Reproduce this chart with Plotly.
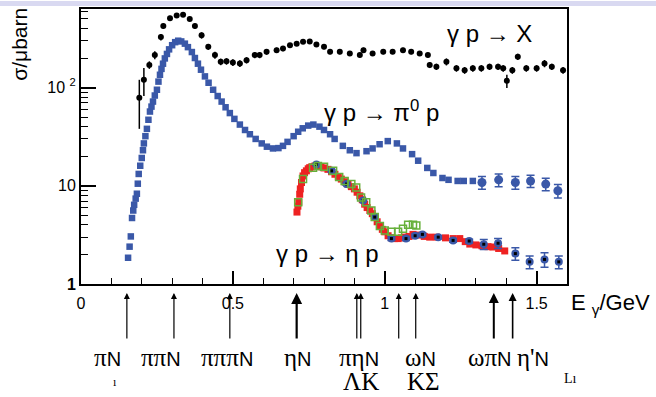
import plotly.graph_objects as go

# ---------------- data ----------------
# total photoabsorption  gamma p -> X  (E_gamma [GeV], sigma [mubarn], error)
tot_E = [0.192, 0.207, 0.225, 0.243, 0.263, 0.271, 0.293, 0.315, 0.336, 0.358,
         0.375, 0.397, 0.419, 0.441, 0.460, 0.479, 0.500, 0.523, 0.545, 0.572,
         0.588, 0.611, 0.644, 0.665, 0.688, 0.710, 0.731, 0.753, 0.775, 0.800,
         0.820, 0.852, 0.885, 0.918, 0.930, 0.960, 0.995, 1.026, 1.060, 1.087,
         1.115, 1.142, 1.148, 1.170, 1.203, 1.236, 1.263, 1.290, 1.318, 1.345,
         1.373, 1.390, 1.402, 1.420, 1.438, 1.466, 1.500, 1.526, 1.550, 1.587]
tot_S = [79, 120, 170, 214, 327, 423, 509, 542, 550, 500,
         423, 340, 260, 214, 183, 185, 180, 176, 190, 214,
         214, 231, 240, 250, 270, 280, 292, 295, 274, 260,
         231, 231, 222, 214, 240, 222, 231, 231, 240, 231,
         222, 214, 170, 163, 183, 157, 150, 157, 157, 163,
         163, 157, 117, 150, 206, 157, 157, 176, 163, 150]
tot_err = [41, 38, 15, 20, 25, 25, 30, 30, 25, 25,
           25, 25, 18, 18, 14, 14, 14, 14, 14, 15,
           15, 15, 15, 15, 15, 15, 15, 15, 15, 15,
           12, 12, 12, 12, 15, 12, 12, 12, 15, 12,
           12, 12, 12, 12, 15, 12, 12, 12, 12, 12,
           12, 12, 18, 12, 15, 12, 12, 15, 12, 12]

# gamma p -> pi0 p
pi0_E = [0.155, 0.160, 0.164, 0.168, 0.172, 0.175, 0.180, 0.184, 0.187, 0.190,
         0.195, 0.200, 0.204, 0.207, 0.212, 0.217, 0.222, 0.227, 0.232, 0.237,
         0.243, 0.250, 0.255, 0.260, 0.265, 0.270, 0.276, 0.283, 0.290, 0.300,
         0.310, 0.320, 0.330, 0.342, 0.352, 0.365, 0.375, 0.385, 0.395, 0.408,
         0.420, 0.435, 0.450, 0.463, 0.476, 0.490, 0.505, 0.523, 0.540, 0.556,
         0.575, 0.595, 0.612, 0.632, 0.650, 0.665, 0.680, 0.700, 0.715, 0.730,
         0.748, 0.765, 0.785, 0.800, 0.820, 0.835, 0.862, 0.885, 0.907, 0.940,
         0.960, 0.983, 1.010, 1.040, 1.060, 1.090, 1.110, 1.140, 1.160, 1.190,
         1.210, 1.240, 1.260, 1.290]
pi0_S = [1.85, 2.4, 3.05, 4.7, 5.6, 6.4, 7.4, 8.3, 10.5, 13.2,
         16, 19.2, 23, 27, 32, 38, 47, 57, 64, 72,
         83, 95, 115, 135, 155, 175, 198, 220, 245, 270,
         290, 300, 295, 280, 258, 230, 200, 175, 152, 130,
         112, 95, 82, 72, 63, 55, 48, 42, 37, 33.5,
         30, 27, 25, 24, 24.2, 25.5, 28, 32, 35.5, 38.5,
         41, 42, 40, 37, 33.5, 30, 25.5, 23, 21.5, 22.5,
         24, 26.5, 28.5, 27, 24, 21, 18, 15.2, 13.5, 12,
         11.5, 11.2, 11.2, 11.2]
pi0_hiE = [1.320, 1.375, 1.430, 1.480, 1.530, 1.570]
pi0_hiS = [10.8, 11.5, 10.8, 11.2, 10.4, 8.9]
pi0_hiErr = [1.6, 1.7, 1.6, 1.6, 1.5, 1.4]

# gamma p -> eta p, red data set
etaR_E = [0.711, 0.714, 0.717, 0.720, 0.722, 0.726, 0.731, 0.736, 0.742, 0.748,
          0.753, 0.760, 0.770, 0.780, 0.790, 0.800, 0.813, 0.825, 0.836, 0.847,
          0.857, 0.868, 0.879, 0.890, 0.900, 0.909, 0.918, 0.926, 0.934, 0.942,
          0.951, 0.959, 0.967, 0.975, 0.984, 0.992, 1.000, 1.011, 1.022, 1.033,
          1.044, 1.055, 1.066, 1.080, 1.093, 1.110, 1.130, 1.148, 1.170, 1.200,
          1.225, 1.247, 1.265, 1.280, 1.300, 1.320, 1.340, 1.356, 1.375, 1.395]
etaR_S = [5.4, 6.2, 6.8, 8.2, 9.3, 10.8, 12.6, 13.6, 14.2, 14.9,
          15.3, 15.6, 15.9, 15.8, 15.6, 15.2, 14.7, 13.9, 13.1, 12.3,
          11.7, 11.0, 10.4, 9.8, 9.3, 8.6, 7.9, 7.2, 6.5, 6.0,
          5.6, 5.2, 4.8, 4.3, 3.9, 3.6, 3.4, 3.1, 2.96, 2.9,
          2.9, 2.95, 3.0, 3.05, 3.2, 3.15, 3.05, 3.0, 3.0, 2.95,
          2.9, 2.9, 2.7, 2.55, 2.5, 2.45, 2.4, 2.38, 2.3, 2.17]

# gamma p -> eta p, green open squares
etaG_E = [0.715, 0.731, 0.764, 0.780, 0.800, 0.830, 0.850, 0.868, 0.890, 0.906,
          0.922, 0.939, 0.956, 0.967, 0.984, 1.000, 1.022, 1.044, 1.060, 1.077,
          1.093, 1.104]
etaG_S = [6.8, 11.7, 15.3, 15.9, 15.6, 14.2, 12.3, 11.2, 10.4, 9.6,
          7.6, 6.8, 5.6, 4.8, 3.9, 3.5, 3.4, 3.4, 3.65, 4.0,
          4.0, 3.95]

# gamma p -> eta p, blue points (black centres)
etaB_E = [0.775, 0.825, 0.874, 0.929, 0.967, 1.022, 1.070, 1.100, 1.124, 1.176,
          1.225, 1.278, 1.326, 1.373, 1.430, 1.477, 1.526, 1.573]
etaB_S = [16.5, 14.2, 10.4, 7.1, 4.8, 2.9, 2.9, 3.1, 3.2, 3.0,
          2.78, 2.74, 2.54, 2.6, 2.04, 1.68, 1.78, 1.68]
etaB_err = [0.4, 0.4, 0.3, 0.2, 0.15, 0.12, 0.12, 0.12, 0.12, 0.12,
            0.12, 0.12, 0.3, 0.3, 0.3, 0.25, 0.3, 0.25]

# thresholds (arrows) and their labels
thr_E = [0.151, 0.306, 0.490, 0.710, 0.908, 0.921, 1.046, 1.102, 1.359, 1.421]
thr_w = [1.2, 1.2, 1.2, 2.2, 1.2, 1.2, 1.2, 1.2, 2.0, 1.6]
lab_greek = ["π", "ππ", "πππ", "η", "πη", "ΛK", "ω", "KΣ", "ωπ", "η'"]
lab_N = [True, True, True, True, True, False, True, False, True, True]
lab_E = [0.086, 0.262, 0.482, 0.714, 0.914, 0.922, 1.118, 1.128, 1.345, 1.487]
lab_row = [0, 0, 0, 0, 0, 1, 0, 1, 0, 0]

BLUE = "#3a58a8"
RED = "#ee2222"
GREEN = "#66b03a"

fig = go.Figure()

fig.add_trace(go.Scatter(
    x=tot_E, y=tot_S, mode="markers",
    marker=dict(color="black", size=6, symbol="circle"),
    error_y=dict(type="data", array=tot_err, color="black", thickness=1.5, width=0),
    showlegend=False))

fig.add_trace(go.Scatter(
    x=pi0_E, y=pi0_S, mode="markers",
    marker=dict(color=BLUE, size=6.5, symbol="square"),
    showlegend=False))
fig.add_trace(go.Scatter(
    x=pi0_hiE, y=pi0_hiS, mode="markers",
    marker=dict(color=BLUE, size=9, symbol="circle"),
    error_y=dict(type="data", array=pi0_hiErr, color=BLUE, thickness=1.5, width=4),
    showlegend=False))

fig.add_trace(go.Scatter(
    x=etaR_E, y=etaR_S, mode="markers",
    marker=dict(color=RED, size=7, symbol="square"),
    showlegend=False))
fig.add_trace(go.Scatter(
    x=etaB_E, y=etaB_S, mode="markers",
    marker=dict(color=BLUE, size=8, symbol="circle"),
    error_y=dict(type="data", array=etaB_err, color=BLUE, thickness=1.5, width=4),
    showlegend=False))
fig.add_trace(go.Scatter(
    x=etaB_E, y=etaB_S, mode="markers",
    marker=dict(color="black", size=3, symbol="square"),
    showlegend=False))
fig.add_trace(go.Scatter(
    x=etaG_E, y=etaG_S, mode="markers",
    marker=dict(color=GREEN, size=7, symbol="square-open",
                line=dict(color=GREEN, width=1.5)),
    showlegend=False))

PLOT_H = 397 - 7 - 113
PLOT_W = 656 - 81 - 89

ann = []
# reaction labels
rfont = dict(family="Liberation Sans, Arial", size=24, color="black")
ann.append(dict(x=1.197, y=2.546, xref="x", yref="y", text="γ p → X",
                showarrow=False, xanchor="left", yanchor="middle", font=rfont))
ann.append(dict(x=0.793, y=1.765, xref="x", yref="y", text="γ p → π<sup>0</sup> p",
                showarrow=False, xanchor="left", yanchor="middle", font=rfont))
ann.append(dict(x=0.635, y=0.314, xref="x", yref="y", text="γ p → η p",
                showarrow=False, xanchor="left", yanchor="middle", font=rfont))

# threshold arrows
for e, w in zip(thr_E, thr_w):
    ann.append(dict(x=e, y=-9 / PLOT_H, xref="x", yref="paper",
                    ax=0, ay=47, axref="pixel", ayref="pixel", text="",
                    showarrow=True, arrowhead=2, arrowsize=1, arrowwidth=w,
                    arrowcolor="black"))
lfont = dict(family="Liberation Serif, Times New Roman", size=25, color="black")
for g, hasN, e, r in zip(lab_greek, lab_N, lab_E, lab_row):
    ypix = 358 if r == 0 else 382
    txt = g + ("<span style='font-family:Liberation Sans;font-size:20px'>N</span>" if hasN else "")
    ann.append(dict(x=e, y=(284 - ypix) / PLOT_H, xref="x", yref="paper",
                    text=txt, showarrow=False, xanchor="center", yanchor="middle",
                    font=lfont))

# axis titles
ann.append(dict(x=(569 - 81) / PLOT_W, y=(284 - 304) / PLOT_H, xref="paper", yref="paper",
                text="E <sub>γ</sub>/GeV", showarrow=False, xanchor="left",
                yanchor="middle",
                font=dict(family="Liberation Sans, Arial", size=22, color="black")))
ann.append(dict(x=(20 - 81) / PLOT_W, y=(284 - 42) / PLOT_H, xref="paper", yref="paper",
                text="σ/μbarn", textangle=-90, showarrow=False, xanchor="center",
                yanchor="middle",
                font=dict(family="Liberation Sans, Arial", size=21, color="black")))
# scan artefacts
ann.append(dict(x=(111 - 81) / PLOT_W, y=(284 - 392) / PLOT_H, xref="paper", yref="paper",
                text="ı", showarrow=False,
                font=dict(size=12, family="Liberation Serif", color="black")))
ann.append(dict(x=(579 - 81) / PLOT_W, y=(284 - 389) / PLOT_H, xref="paper", yref="paper",
                text="Lı", showarrow=False,
                font=dict(size=14, family="Liberation Serif", color="black")))

fig.update_layout(
    width=656, height=397, autosize=False,
    margin=dict(l=81, r=89, t=7, b=113),
    paper_bgcolor="white", plot_bgcolor="white",
    font=dict(color="black", family="Liberation Sans, Arial"),
    showlegend=False,
    annotations=ann,
    shapes=[dict(type="rect", xref="paper", yref="paper",
                 x0=-81 / PLOT_W, x1=1 + 89 / PLOT_W,
                 y0=1 + 3 / PLOT_H, y1=1 + 8 / PLOT_H,
                 fillcolor="#d9d9f1", line=dict(width=0), layer="below")],
    xaxis=dict(range=[0, 1.6], showgrid=False, zeroline=False,
               showline=True, linecolor="black", linewidth=2, mirror=True,
               ticks="inside", ticklen=13, tickwidth=1.5, tickcolor="black",
               tickvals=[0, 0.5, 1, 1.5], ticktext=["0", "0.5", "1", "1.5"],
               ticklabelstandoff=4,
               minor=dict(ticks="inside", ticklen=6, tickwidth=1.2, tickcolor="black",
                          tickvals=[0.1, 0.2, 0.3, 0.4, 0.6, 0.7, 0.8, 0.9,
                                    1.1, 1.2, 1.3, 1.4, 1.6]),
               tickfont=dict(family="Liberation Sans, Arial", size=16, color="black")),
    yaxis=dict(type="log", range=[0, 2.80], showgrid=False, zeroline=False,
               showline=True, linecolor="black", linewidth=2, mirror=True,
               ticks="inside", ticklen=15, tickwidth=2, tickcolor="black",
               tickvals=[1, 10, 100], ticktext=["<b>1</b>", "10", "10 <sup>2</sup>"],
               minor=dict(ticks="inside", ticklen=7, tickwidth=1.2, tickcolor="black",
                          tickvals=[2, 3, 4, 5, 6, 7, 8, 9,
                                    20, 30, 40, 50, 60, 70, 80, 90,
                                    200, 300, 400, 500, 600]),
               tickfont=dict(family="Liberation Sans, Arial", size=16, color="black")),
)

fig.write_html("out.html")
